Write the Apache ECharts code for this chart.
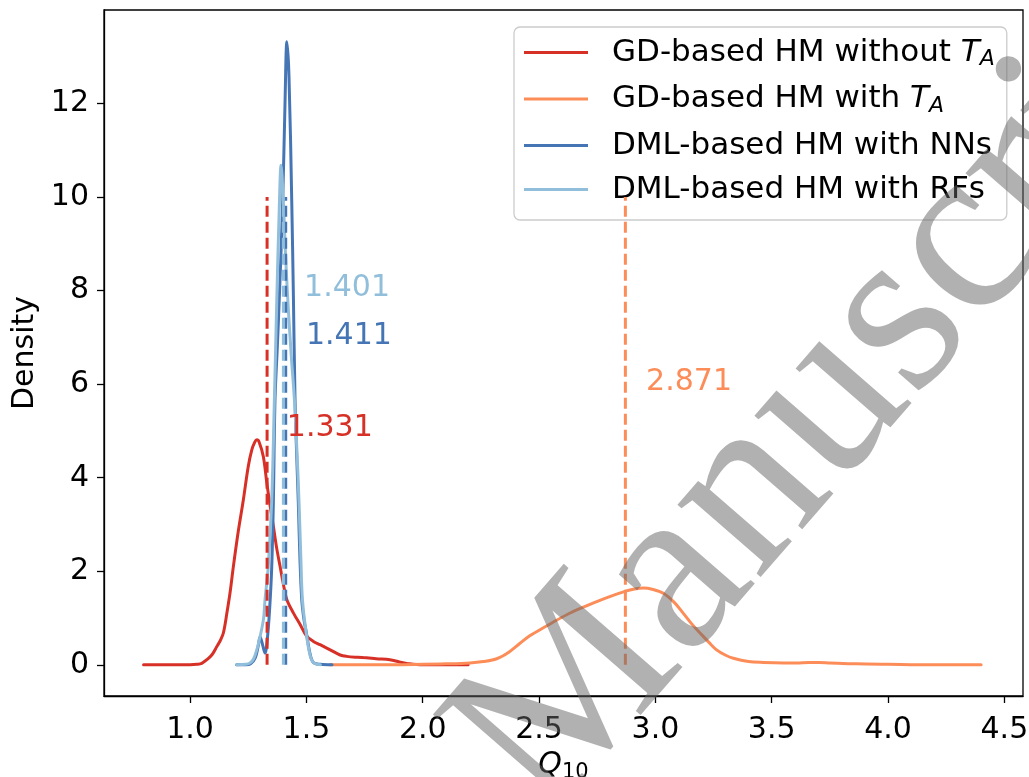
<!DOCTYPE html>
<html>
<head>
<meta charset="utf-8">
<script src="https://cdn.jsdelivr.net/npm/echarts@6/dist/echarts.min.js"></script>
<style>html,body{margin:0;padding:0;background:#fff}#c{width:1029px;height:777px}</style>
</head>
<body>
<div id="c"></div>
<script>
// ---- data ----
const xTicks = [1.0, 1.5, 2.0, 2.5, 3.0, 3.5, 4.0, 4.5];
const yTicks = [0, 2, 4, 6, 8, 10, 12];
const seriesNames = ['GD-based HM without TA', 'GD-based HM with TA', 'DML-based HM with NNs', 'DML-based HM with RFs'];
const colors = ['#d73027', '#fc8d59', '#4575b4', '#91bfdb'];

const gdWithoutTA = [[0.80,0],[0.90,0],[1.00,0],[1.03,0.01],[1.05,0.03],[1.072,0.11],[1.095,0.22],[1.115,0.39],[1.13,0.52],[1.143,0.68],[1.158,1.10],[1.172,1.55],[1.186,2.10],[1.207,2.85],[1.229,3.53],[1.25,4.24],[1.265,4.59],[1.278,4.76],[1.287,4.81],[1.297,4.76],[1.315,4.45],[1.330,3.88],[1.344,3.40],[1.358,2.96],[1.372,2.50],[1.387,2.10],[1.40,1.75],[1.416,1.39],[1.445,1.10],[1.473,0.86],[1.50,0.62],[1.530,0.50],[1.559,0.43],[1.602,0.32],[1.645,0.21],[1.673,0.18],[1.72,0.16],[1.759,0.15],[1.80,0.13],[1.859,0.11],[1.90,0.06],[1.931,0.03],[2.0,0.0],[2.1,0],[2.195,0]];
const gdWithTA = [[1.60,0],[1.80,0],[2.00,0.01],[2.10,0.02],[2.203,0.04],[2.26,0.07],[2.318,0.13],[2.37,0.27],[2.418,0.46],[2.46,0.62],[2.504,0.75],[2.56,0.91],[2.619,1.07],[2.68,1.21],[2.748,1.35],[2.81,1.47],[2.869,1.57],[2.91,1.62],[2.948,1.64],[2.99,1.61],[3.034,1.53],[3.08,1.34],[3.12,1.10],[3.155,0.88],[3.192,0.68],[3.23,0.48],[3.263,0.32],[3.30,0.21],[3.335,0.14],[3.40,0.07],[3.464,0.05],[3.55,0.04],[3.607,0.04],[3.66,0.05],[3.703,0.05],[3.75,0.04],[3.862,0.02],[4.0,0.01],[4.2,0],[4.4,0]];
const dmlNN = [[1.20,0],[1.24,0],[1.26,0.02],[1.28,0.15],[1.292,0.38],[1.301,0.60],[1.312,0.42],[1.322,0.25],[1.332,0.55],[1.342,1.20],[1.351,2.10],[1.358,3.50],[1.365,5.66],[1.375,6.80],[1.384,7.90],[1.398,9.90],[1.408,12.0],[1.416,13.32],[1.425,12.6],[1.437,9.90],[1.444,7.90],[1.451,5.70],[1.458,4.50],[1.465,3.50],[1.472,2.30],[1.480,1.39],[1.490,0.95],[1.500,0.68],[1.515,0.25],[1.530,0.05],[1.56,0.01],[1.61,0]];
const dmlRF = [[1.20,0],[1.24,0.01],[1.258,0.04],[1.275,0.15],[1.294,0.46],[1.315,0.96],[1.322,1.39],[1.336,2.10],[1.351,3.53],[1.362,5.6],[1.373,7.87],[1.383,9.7],[1.391,10.68],[1.400,10.0],[1.41,8.8],[1.42,7.8],[1.435,6.6],[1.448,5.7],[1.46,4.5],[1.468,3.5],[1.476,2.3],[1.483,1.39],[1.50,0.65],[1.515,0.22],[1.53,0.05],[1.56,0]];

const meanValues = [1.331, 2.871, 1.411, 1.401];
const meanLineTop = 10;
const annText = ['1.331', '2.871', '1.411', '1.401'];
const annX = [1.416, 2.96, 1.498, 1.49];
const annY = [5.05, 6.05, 7.03, 8.05];

// ---- chart ----
const curves = [gdWithoutTA, gdWithTA, dmlNN, dmlRF];
const FONT = 'DejaVu Sans';
const legendRich = {
  g: {width: 19},
  n: {fontSize: 31, fontFamily: FONT, color: '#000', lineHeight: 36},
  i: {fontSize: 31, fontFamily: FONT, fontStyle: 'italic', color: '#000', lineHeight: 36},
  s: {fontSize: 22, fontFamily: FONT, fontStyle: 'italic', color: '#000', lineHeight: 20, verticalAlign: 'bottom'}
};
const legendFmt = {
  'GD-based HM without TA': '{g|}{n|GD-based HM without }{i|T}{s|A}',
  'GD-based HM with TA': '{g|}{n|GD-based HM with }{i|T}{s|A}',
  'DML-based HM with NNs': '{g|}{n|DML-based HM with NNs}',
  'DML-based HM with RFs': '{g|}{n|DML-based HM with RFs}'
};

const series = [];
curves.forEach((d, k) => {
  series.push({
    name: seriesNames[k], type: 'line', data: d, showSymbol: false, symbol: 'none',
    smooth: 0.35,
    lineStyle: {color: colors[k], width: 3, join: 'round', cap: 'round'}, itemStyle: {color: colors[k]},
    z: 2 + k, silent: true
  });
});
meanValues.forEach((m, k) => {
  series.push({
    type: 'line', data: [[m, 0], [m, meanLineTop]], showSymbol: false, symbol: 'none',
    lineStyle: {color: colors[k], width: 3, type: [11, 5]}, z: 10 + k, silent: true
  });
});
series.push({
  type: 'custom', silent: true, z: 20,
  data: annText.map((t, k) => [annX[k], annY[k], k]),
  renderItem: (params, api) => {
    const k = api.value(2);
    const p = api.coord([api.value(0), api.value(1)]);
    return {type: 'text', x: p[0], y: p[1],
      style: {text: annText[k], fill: colors[k], font: '30px "DejaVu Sans"', align: 'left', verticalAlign: 'middle'}};
  }
});

const chart = echarts.init(document.getElementById('c'), null, {renderer: 'canvas'});
chart.setOption({
  backgroundColor: '#fff',
  animation: false,
  grid: {left: 104, top: 10, right: 6, bottom: 81, outerBoundsMode: 'none', containLabel: false,
    show: true, borderColor: '#000', borderWidth: 1.3, backgroundColor: 'transparent'},
  legend: {
    data: seriesNames.map(n => ({name: n, icon: 'rect'})),
    orient: 'vertical', left: 514, top: 27, itemWidth: 64, itemHeight: 3, itemGap: 13,
    padding: [10, 12, 15, 10], backgroundColor: 'rgba(255,255,255,0.8)', borderColor: '#cccccc',
    borderWidth: 1.3, borderRadius: 6, selectedMode: false,
    formatter: n => legendFmt[n], textStyle: {rich: legendRich}
  },
  xAxis: {
    type: 'value', min: 0.63, max: 4.58,
    name: '{q|Q}{s|10}', nameLocation: 'middle', nameGap: 44,
    nameTextStyle: {rich: {
      q: {fontSize: 30, fontFamily: FONT, fontStyle: 'italic', color: '#000', lineHeight: 36},
      s: {fontSize: 21, fontFamily: FONT, color: '#000', lineHeight: 20, verticalAlign: 'bottom'}
    }},
    axisLine: {show: true, onZero: false, lineStyle: {color: '#000', width: 1.3}},
    axisTick: {show: true, length: 7, lineStyle: {color: '#000', width: 1.3}, customValues: xTicks},
    axisLabel: {fontSize: 30, fontFamily: FONT, color: '#000', margin: 19, customValues: xTicks, formatter: v => v.toFixed(1)},
    splitLine: {show: false}
  },
  yAxis: {
    type: 'value', min: -0.667, max: 14.0,
    name: 'Density', nameLocation: 'middle', nameGap: 54,
    nameTextStyle: {fontSize: 30, fontFamily: FONT, color: '#000'},
    axisLine: {show: true, onZero: false, lineStyle: {color: '#000', width: 1.3}},
    axisTick: {show: true, length: 7, lineStyle: {color: '#000', width: 1.3}, customValues: yTicks},
    axisLabel: {fontSize: 30, fontFamily: FONT, color: '#000', margin: 15, customValues: yTicks, formatter: v => String(v)},
    splitLine: {show: false}
  },
  series: series,
  graphic: [{
    type: 'text', x: 590, y: 860, rotation: 49 * Math.PI / 180, silent: true, z: 100,
    style: {text: 'Manuscript', font: '240px "Liberation Serif"', fill: 'rgba(100,100,100,0.5)', verticalAlign: 'bottom', align: 'left'}
  }]
});
</script>
</body>
</html>
